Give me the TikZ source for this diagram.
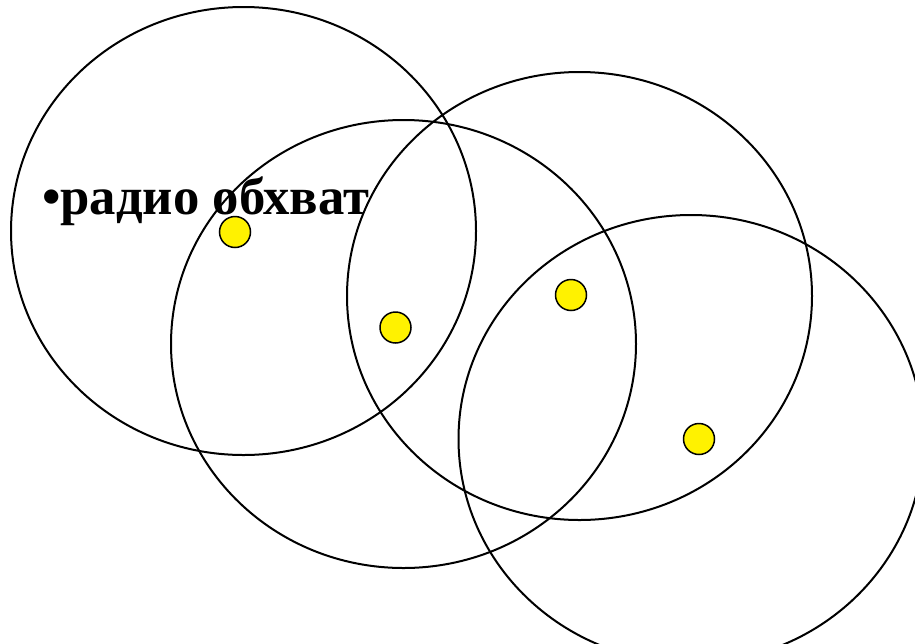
\documentclass[tikz,border=0pt]{standalone}
\usepackage{fontspec}
\setmainfont{Liberation Serif}
\begin{document}
\begin{tikzpicture}[x=1pt,y=-1pt,
  cover/.style={draw=black,line width=2pt},
  node dot/.style={circle,draw=black,fill=yellow,line width=1.5pt,minimum size=31pt,inner sep=0pt}]
\useasboundingbox (0,0) rectangle (915,643);
\begin{scope}
\clip (0,0) rectangle (915,643);
\draw[cover] (243.5,231) ellipse [x radius=232.5, y radius=224];
\draw[cover] (403.5,344) ellipse [x radius=232.5, y radius=224];
\draw[cover] (579.5,296) ellipse [x radius=232.5, y radius=224];
\draw[cover] (691,439) ellipse [x radius=232.5, y radius=224];
\end{scope}
\node[node dot] (d1) at (235,232) {};
\node[node dot] (d2) at (395.5,327.5) {};
\node[node dot] (d3) at (571,295) {};
\node[node dot] (d4) at (699,439) {};
\node[anchor=base west,inner sep=0pt,font=\fontsize{52.7}{56}\selectfont\bfseries] (lbl) at (42,214) {•радио обхват};
\end{tikzpicture}
\end{document}
